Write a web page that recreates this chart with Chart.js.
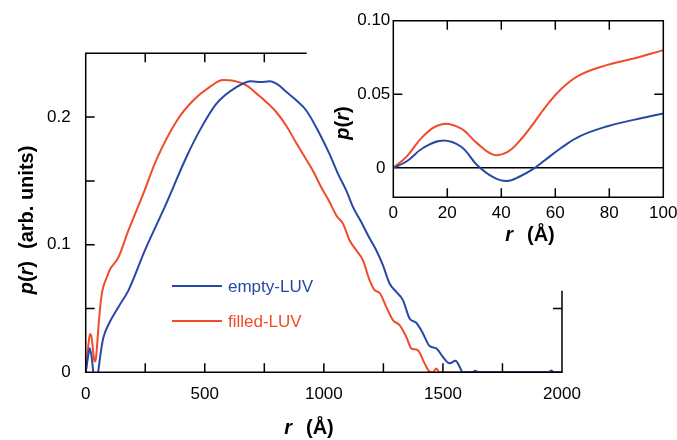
<!DOCTYPE html>
<html>
<head>
<meta charset="utf-8">
<script src="https://cdn.jsdelivr.net/npm/chart.js@4.4.1/dist/chart.umd.min.js"></script>
<style>
  html, body { margin: 0; padding: 0; background: #fff; overflow: hidden; }
  #wrap { position: relative; width: 677px; height: 440px; }
  #mainChart { position: absolute; left: 0; top: 0; }
  #insetChart { position: absolute; left: 330px; top: 0; }
</style>
</head>
<body>
<div id="wrap">
  <canvas id="mainChart" width="677" height="440"></canvas>
  <canvas id="insetChart" width="347" height="260"></canvas>
</div>
<script>
// main plot: p(r) over the whole range
const emptyR = [0, 8, 17, 25, 32, 42, 52, 62, 74, 100, 140, 179, 249, 332, 423, 479, 549, 633, 696, 735, 773, 810, 843, 885, 927, 982, 1024, 1059, 1094, 1122, 1157, 1192, 1220, 1248, 1276, 1304, 1332, 1360, 1388, 1416, 1444, 1472, 1500, 1528, 1553, 1570, 1583, 1625, 1636, 1648, 1945, 1955, 1965, 2000];
const emptyP = [0, 0.010, 0.0188, 0.012, 0, -0.009, 0, 0.014, 0.027, 0.039, 0.052, 0.064, 0.0957, 0.1296, 0.1687, 0.1896, 0.2105, 0.2235, 0.228, 0.2275, 0.228, 0.225, 0.2196, 0.213, 0.205, 0.187, 0.171, 0.1557, 0.1426, 0.1296, 0.1178, 0.105, 0.0957, 0.084, 0.0696, 0.063, 0.0566, 0.0422, 0.0388, 0.0305, 0.0206, 0.0188, 0.012, 0.007, 0.009, 0.0044, 0, 0, 0.0012, 0, 0, 0.0015, 0, 0];

const filledR = [0, 5, 11, 18, 25, 31, 37, 43, 49, 55, 62, 69, 79, 89, 100, 137, 179, 242, 298, 382, 451, 520, 577, 620, 675, 720, 759, 800, 843, 880, 912, 954, 989, 1024, 1052, 1080, 1108, 1136, 1164, 1192, 1213, 1234, 1262, 1290, 1318, 1346, 1367, 1394, 1423, 1441, 1458, 1472, 1486, 2000];
const filledP = [0, 0.008, 0.021, 0.030, 0.027, 0.017, 0.0085, 0.011, 0.024, 0.039, 0.053, 0.063, 0.070, 0.0745, 0.080, 0.090, 0.111, 0.140, 0.167, 0.197, 0.213, 0.2235, 0.229, 0.2285, 0.2248, 0.218, 0.2117, 0.204, 0.193, 0.181, 0.171, 0.158, 0.145, 0.1335, 0.123, 0.1166, 0.1035, 0.0957, 0.0879, 0.0722, 0.0644, 0.0623, 0.0513, 0.0409, 0.037, 0.0279, 0.0188, 0.0174, 0.007, 0.001, 0, 0.003, 0, 0];

const mainXTicks = [0, 250, 500, 750, 1000, 1250, 1500, 1750, 2000];
const mainXLabels = ['0', '', '500', '', '1000', '', '1500', '', '2000'];
const mainYTicks = [0, 0.05, 0.1, 0.15, 0.2];
const mainYLabels = ['0', '', '0.1', '', '0.2'];

// inset: zoom on small r
const insetR = [0, 5, 11, 18, 25, 31, 37, 42, 47, 52, 56, 62, 69, 79, 89, 100];
const insetEmpty = [0, 0.0045, 0.0135, 0.0185, 0.0145, 0.002, -0.0063, -0.009, -0.0057, -0.0005, 0.005, 0.0133, 0.0214, 0.0281, 0.0326, 0.037];
const insetFilled = [0, 0.0078, 0.0214, 0.0297, 0.0268, 0.0168, 0.009, 0.0105, 0.0188, 0.0304, 0.0405, 0.0533, 0.063, 0.0698, 0.0743, 0.080];
const insetXTicks = [0, 20, 40, 60, 80, 100];
const insetXLabels = ['0', '20', '40', '60', '80', '100'];
const insetYTicks = [0, 0.05, 0.1];
const insetYLabels = ['0 ', '0.05', '0.10'];

const BLUE = '#2848a6';
const RED = '#f04b2b';
const FAMILY = "'Liberation Sans', Arial, Helvetica, sans-serif";
const tickFont = { family: FAMILY, size: 17 };

function toPoints(xs, ys) {
    return xs.map((x, i) => ({ x: x, y: ys[i] }));
}

// text made of pieces with different fonts, centred on (cx, cy)
function drawRich(ctx, parts, cx, cy, angle) {
    ctx.save();
    ctx.translate(cx, cy);
    ctx.rotate(angle);
    let total = 0;
    parts.forEach(p => {
        ctx.font = p.font;
        p.w = ctx.measureText(p.text).width + (p.gap || 0);
        total += p.w;
    });
    let x = -total / 2;
    ctx.textBaseline = 'middle';
    ctx.textAlign = 'left';
    ctx.fillStyle = '#000';
    parts.forEach(p => {
        ctx.font = p.font;
        ctx.fillText(p.text, x, 0);
        x += p.w;
    });
    ctx.restore();
}

const BI = 'italic bold 20px ' + FAMILY;
const B = 'bold 20px ' + FAMILY;
const rTitle = [{ text: 'r', font: BI, gap: 14 }, { text: '(Å)', font: B }];
const pTitle = [{ text: 'p', font: BI }, { text: '(', font: B }, { text: 'r', font: BI }, { text: ')', font: B }];
const pLongTitle = pTitle.slice(0, 3).concat([{ text: ')', font: B, gap: 12 }, { text: '(arb. units)', font: B }]);

const TICK = 9;

const mainDecor = {
    id: 'mainDecor',
    afterDatasetsDraw(chart) {
        const { ctx, chartArea: a, scales: { x, y } } = chart;
        const topEnd = x.getPixelForValue(928);    // top border stops before the inset
        const rightTop = y.getPixelForValue(0.064); // right border only below the inset
        ctx.save();
        ctx.strokeStyle = '#000';
        ctx.lineWidth = 1.5;
        ctx.beginPath();
        ctx.moveTo(topEnd, a.top);
        ctx.lineTo(a.left, a.top);
        ctx.lineTo(a.left, a.bottom);
        ctx.lineTo(a.right, a.bottom);
        ctx.lineTo(a.right, rightTop);
        x.ticks.forEach(t => {
            const px = x.getPixelForValue(t.value);
            if (t.value > 0 && t.value < 2000) {
                ctx.moveTo(px, a.bottom);
                ctx.lineTo(px, a.bottom - TICK);
            }
            if (t.value > 0 && px < topEnd) {
                ctx.moveTo(px, a.top);
                ctx.lineTo(px, a.top + TICK);
            }
        });
        y.ticks.forEach(t => {
            const py = y.getPixelForValue(t.value);
            if (t.value > 0) {
                ctx.moveTo(a.left, py);
                ctx.lineTo(a.left + TICK, py);
            }
            if (t.value > 0 && py > rightTop) {
                ctx.moveTo(a.right, py);
                ctx.lineTo(a.right - TICK, py);
            }
        });
        ctx.stroke();

        // legend
        ctx.font = '17px ' + FAMILY;
        ctx.textBaseline = 'middle';
        ctx.textAlign = 'left';
        ctx.lineWidth = 2;
        [286, 321].forEach((ly, i) => {
            const ds = chart.data.datasets[i];
            ctx.strokeStyle = ds.borderColor;
            ctx.beginPath();
            ctx.moveTo(172, ly);
            ctx.lineTo(222, ly);
            ctx.stroke();
            ctx.fillStyle = ds.borderColor;
            ctx.fillText(ds.label, 228, ly + 1);
        });
        ctx.restore();

        drawRich(ctx, rTitle, 309, 428, 0);
        drawRich(ctx, pLongTitle, 27, 220, -Math.PI / 2);
    }
};

const insetDecor = {
    id: 'insetDecor',
    beforeDatasetsDraw(chart) {
        const { ctx, chartArea: a, scales: { y } } = chart;
        ctx.save();
        ctx.strokeStyle = '#000';
        ctx.lineWidth = 1.5;
        ctx.beginPath();
        ctx.moveTo(a.left, y.getPixelForValue(0));
        ctx.lineTo(a.right, y.getPixelForValue(0));
        ctx.stroke();
        ctx.restore();
    },
    afterDatasetsDraw(chart) {
        const { ctx, chartArea: a, scales: { x, y } } = chart;
        ctx.save();
        ctx.strokeStyle = '#000';
        ctx.lineWidth = 1.5;
        ctx.beginPath();
        ctx.rect(a.left, a.top, a.right - a.left, a.bottom - a.top);
        x.ticks.forEach(t => {
            if (t.value <= 0 || t.value >= 100) return;
            const px = x.getPixelForValue(t.value);
            ctx.moveTo(px, a.bottom);
            ctx.lineTo(px, a.bottom - TICK);
            ctx.moveTo(px, a.top);
            ctx.lineTo(px, a.top + TICK);
        });
        y.ticks.forEach(t => {
            if (t.value <= 0 || t.value >= 0.1) return;
            const py = y.getPixelForValue(t.value);
            ctx.moveTo(a.left, py);
            ctx.lineTo(a.left + TICK, py);
            ctx.moveTo(a.right, py);
            ctx.lineTo(a.right - TICK, py);
        });
        ctx.stroke();
        ctx.restore();

        drawRich(ctx, rTitle, 200, 235, 0);
        drawRich(ctx, pTitle, 13, 123, -Math.PI / 2);
    }
};

function lineSet(label, data, color, smooth) {
    const ds = {
        label: label,
        data: data,
        borderColor: color,
        backgroundColor: color,
        borderWidth: 2,
        pointRadius: 0,
        clip: 0
    };
    if (smooth === 'monotone') ds.cubicInterpolationMode = 'monotone';
    else ds.tension = smooth;
    return ds;
}

function axisOpts(min, max, ticks, labels, size, padding, isX) {
    return {
        type: 'linear',
        min: min,
        max: max,
        afterBuildTicks: s => { s.ticks = ticks.map(v => ({ value: v })); },
        afterFit: s => {
            if (isX) s.height = size; else s.width = size;
            s.paddingLeft = 0; s.paddingRight = 0; s.paddingTop = 0; s.paddingBottom = 0;
        },
        grid: { display: false, drawTicks: false },
        border: { display: false },
        ticks: {
            autoSkip: false,
            maxRotation: 0,
            padding: padding,
            color: '#000',
            font: tickFont,
            callback: (v, i) => labels[i]
        }
    };
}

new Chart(document.getElementById('mainChart'), {
    type: 'line',
    data: {
        datasets: [
            lineSet('empty-LUV', toPoints(emptyR, emptyP), BLUE, 'monotone'),
            lineSet('filled-LUV', toPoints(filledR, filledP), RED, 'monotone')
        ]
    },
    options: {
        responsive: false,
        animation: false,
        layout: { padding: { top: 53.3, right: 115, left: 0, bottom: 0 } },
        plugins: { legend: { display: false }, tooltip: { enabled: false } },
        scales: {
            x: axisOpts(0, 2000, mainXTicks, mainXLabels, 440 - 372.3, 11.5, true),
            y: axisOpts(0, 0.25, mainYTicks, mainYLabels, 85.7, 15, false)
        }
    },
    plugins: [mainDecor]
});

new Chart(document.getElementById('insetChart'), {
    type: 'line',
    data: {
        datasets: [
            lineSet('empty-LUV', toPoints(insetR, insetEmpty), BLUE, 0.4),
            lineSet('filled-LUV', toPoints(insetR, insetFilled), RED, 0.4)
        ]
    },
    options: {
        responsive: false,
        animation: false,
        layout: { padding: { top: 20.7, right: 13.7, left: 0, bottom: 0 } },
        plugins: { legend: { display: false }, tooltip: { enabled: false } },
        scales: {
            x: axisOpts(0, 100, insetXTicks, insetXLabels, 260 - 197.3, 5.5, true),
            y: axisOpts(-0.02, 0.1, insetYTicks, insetYLabels, 63.3, 3, false)
        }
    },
    plugins: [insetDecor]
});
</script>
</body>
</html>
